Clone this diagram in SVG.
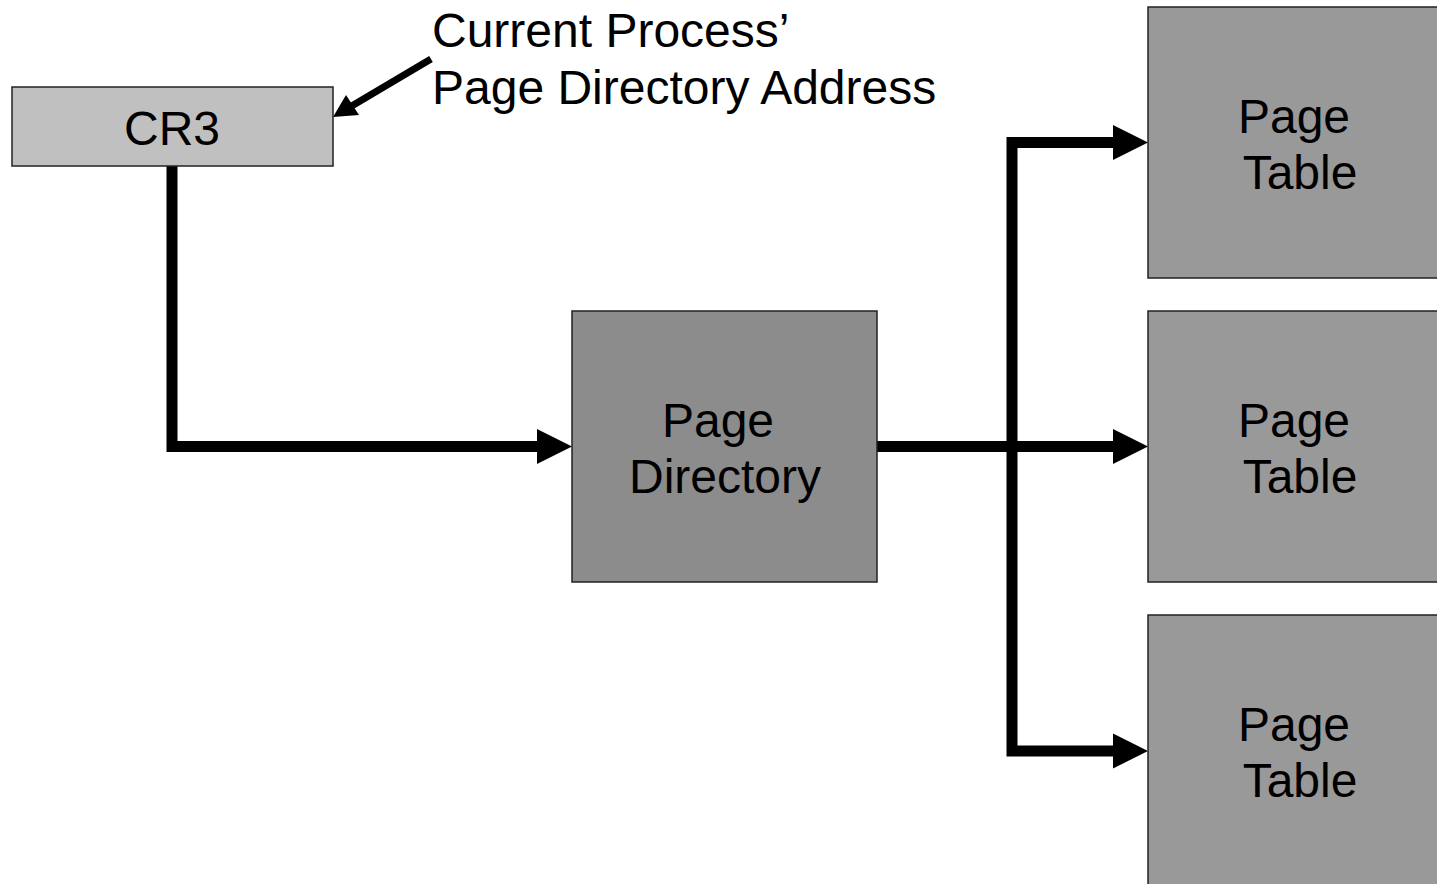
<svg xmlns="http://www.w3.org/2000/svg" width="1437" height="884" viewBox="0 0 1437 884">
<style>
text{font-family:"Liberation Sans",Arial,sans-serif;font-size:48px;fill:#000}
.c{text-anchor:middle}
.box{stroke:#222;stroke-width:1.5}
.ln{fill:none;stroke:#000;stroke-width:11;stroke-linejoin:miter}
</style>
<rect width="1437" height="884" fill="#fff"/>
<g id="connectors">
<path class="ln" d="M172,166 V446.5 H540"/>
<polygon points="537,429 572,446.5 537,464"/>
<path class="ln" d="M877,446.5 H1116"/>
<polygon points="1113,429 1148,446.5 1113,464"/>
<path class="ln" d="M1116,142.5 H1012 V751 H1116"/>
<polygon points="1113,125 1148,142.5 1113,160"/>
<polygon points="1113,733.5 1148,751 1113,768.5"/>
<line x1="431" y1="59" x2="350" y2="107" stroke="#000" stroke-width="7"/>
<polygon points="333,117 346,95 359,115"/>
</g>
<g id="label">
<text x="432" y="47">Current Process’</text>
<text x="432" y="104">Page Directory Address</text>
</g>
<g id="cr3">
<rect class="box" x="12" y="87" width="321" height="79" fill="#c0c0c0"/>
<text class="c" x="172" y="145">CR3</text>
</g>
<g id="page-directory">
<rect class="box" x="572" y="311" width="305" height="271" fill="#8c8c8c"/>
<text class="c" x="718" y="437">Page</text>
<text class="c" x="725" y="493">Directory</text>
</g>
<g id="page-table-1">
<rect class="box" x="1148" y="7" width="295" height="271" fill="#999"/>
<text class="c" x="1294" y="133">Page</text>
<text class="c" x="1300" y="189">Table</text>
</g>
<g id="page-table-2">
<rect class="box" x="1148" y="311" width="295" height="271" fill="#999"/>
<text class="c" x="1294" y="437">Page</text>
<text class="c" x="1300" y="493">Table</text>
</g>
<g id="page-table-3">
<rect class="box" x="1148" y="615" width="295" height="280" fill="#999"/>
<text class="c" x="1294" y="741">Page</text>
<text class="c" x="1300" y="797">Table</text>
</g>
</svg>
